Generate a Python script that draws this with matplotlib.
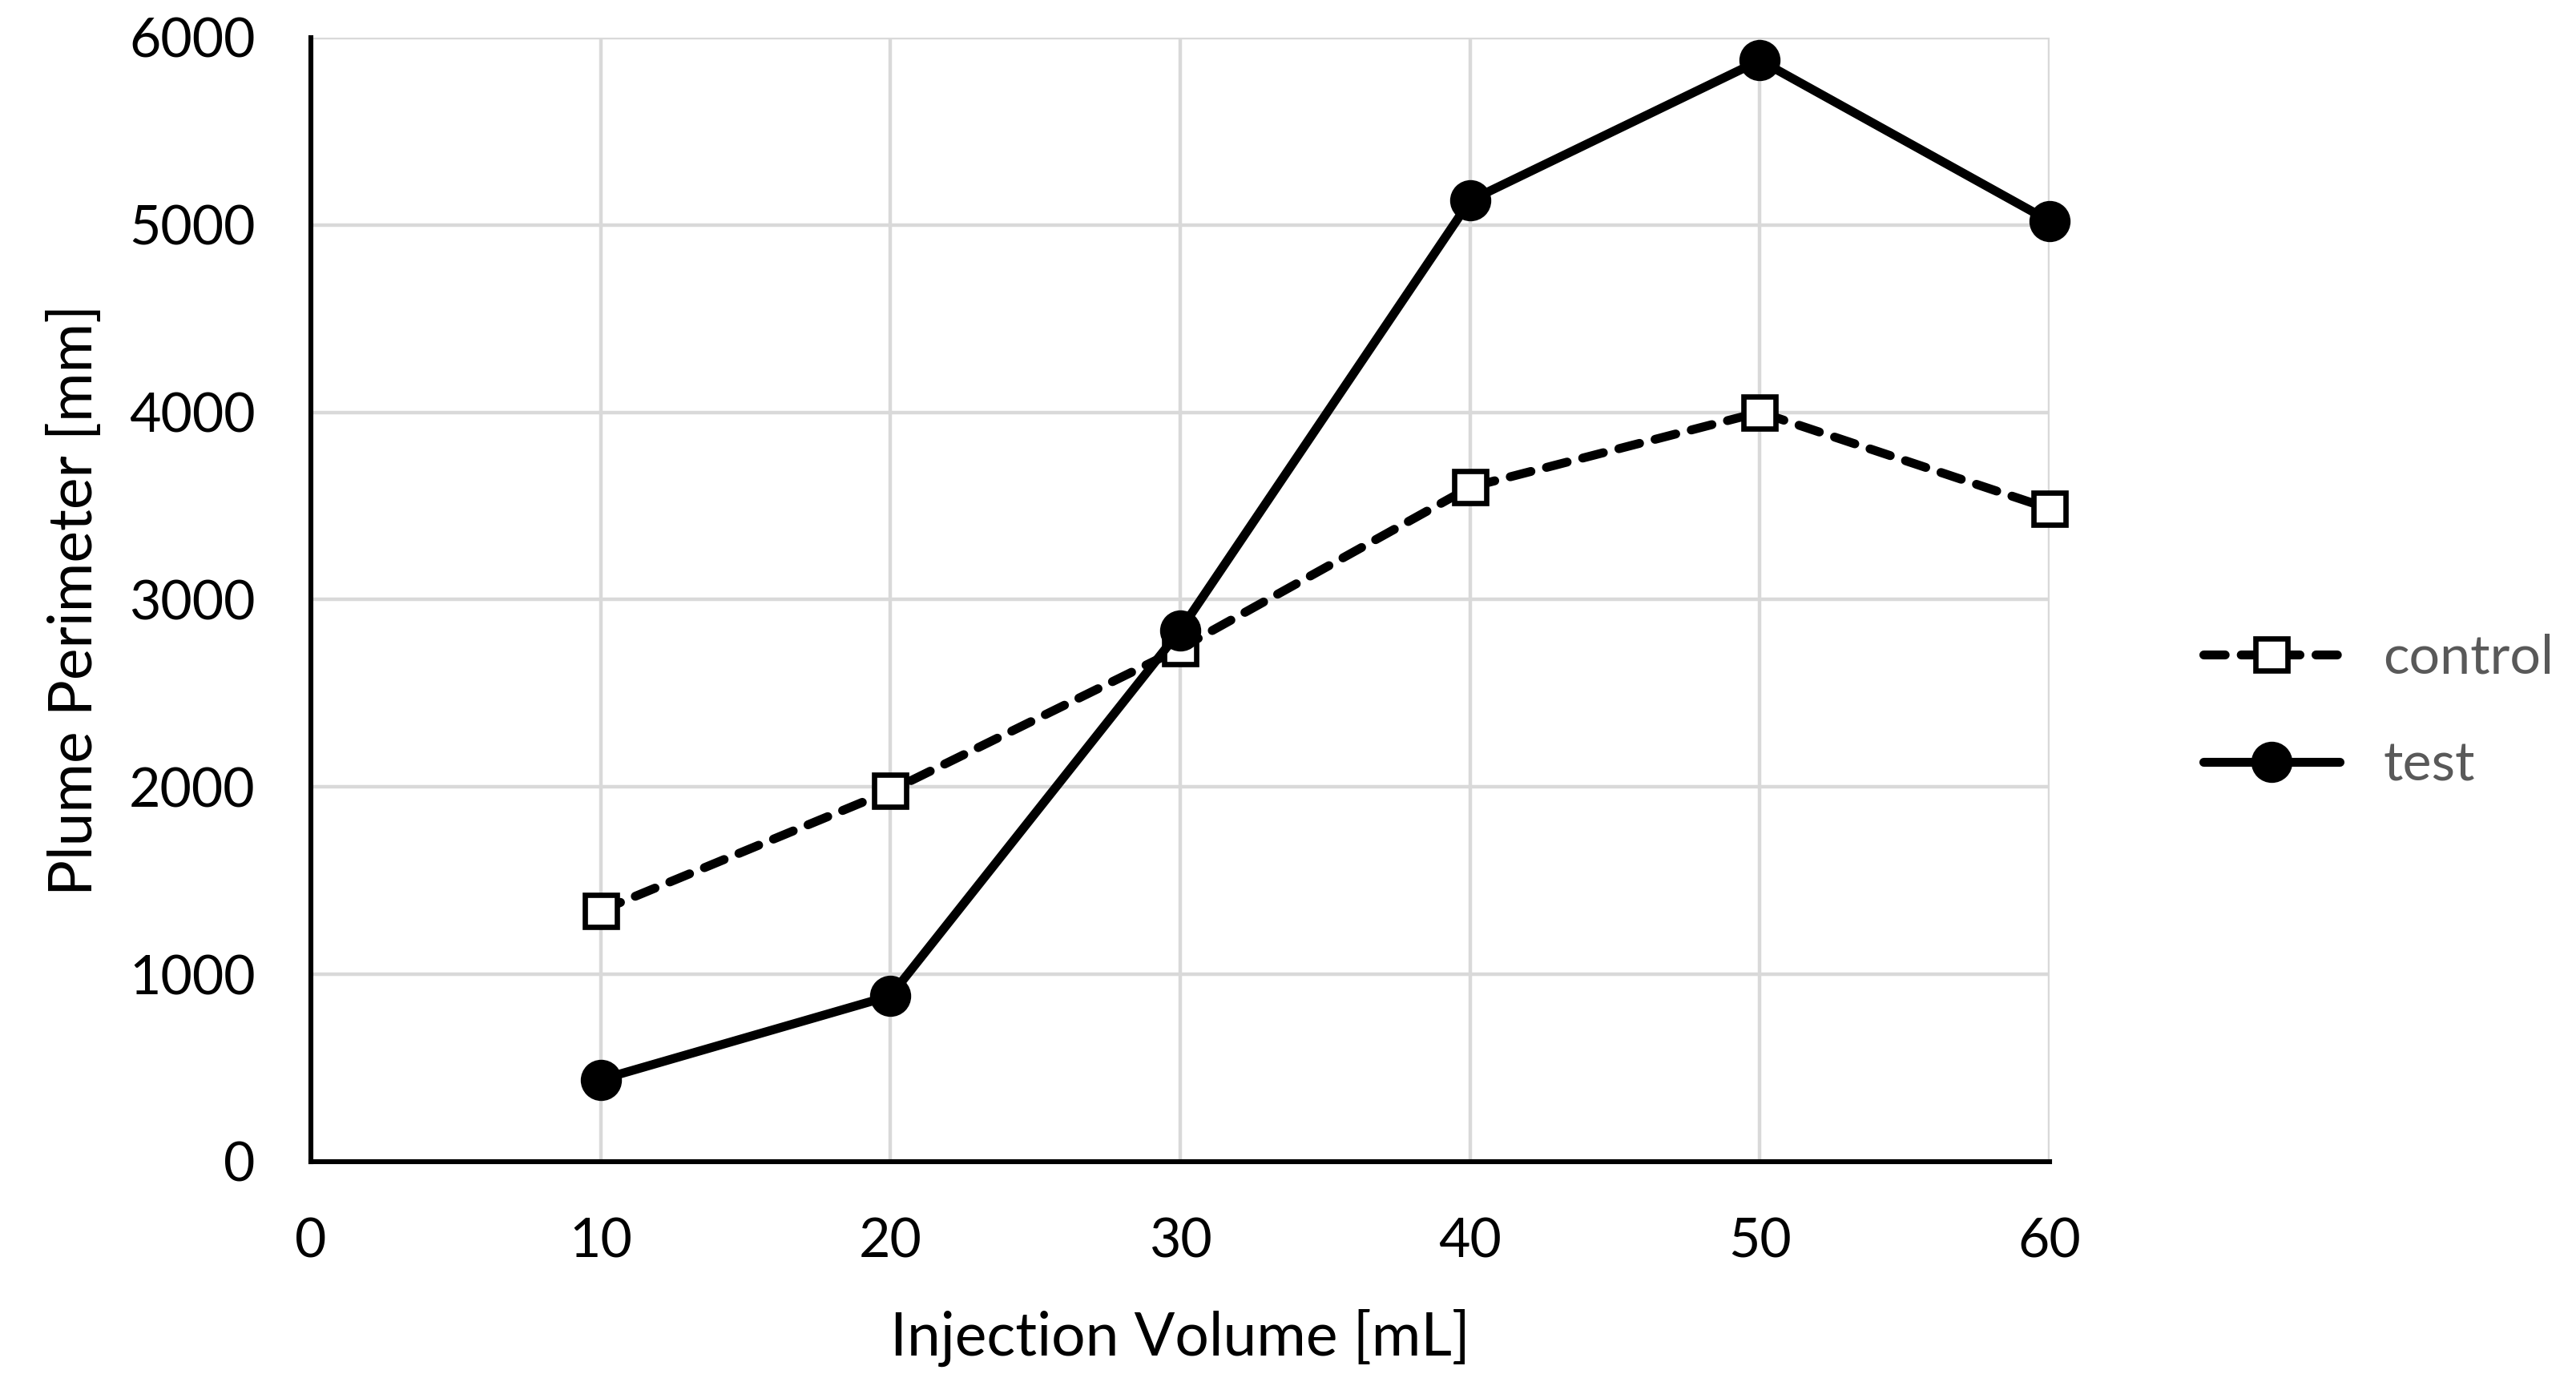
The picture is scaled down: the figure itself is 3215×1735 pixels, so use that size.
import matplotlib.pyplot as plt

# values
volume = [10, 20, 30, 40, 50, 60]
control = [1340, 1980, 2740, 3600, 4000, 3485]
test = [438, 885, 2837, 5130, 5878, 5020]

x_ticks = [0, 10, 20, 30, 40, 50, 60]
y_ticks = [0, 1000, 2000, 3000, 4000, 5000, 6000]

plt.rcParams['font.family'] = ['Lato', 'DejaVu Sans']

fig = plt.figure(figsize=(16.075, 8.675), dpi=200)
ax = fig.add_axes([0.1207, 0.1643, 0.675, 0.8087])

ax.plot(volume, control, color='black', lw=4.0, linestyle=(0, (2.4, 1.8)),
        dash_capstyle='round', marker='s', markersize=14.5,
        markerfacecolor='white', markeredgecolor='black', markeredgewidth=2.4,
        label='control', zorder=3, clip_on=False)
ax.plot(volume, test, color='black', lw=4.0, solid_capstyle='round',
        marker='o', markersize=17.5, markerfacecolor='black',
        markeredgecolor='black', label='test', zorder=4, clip_on=False)

ax.set_xlim(0, 60)
ax.set_ylim(0, 6000)
ax.set_xticks(x_ticks)
ax.set_yticks(y_ticks)
ax.grid(True, color='#d9d9d9', lw=1.6)
ax.set_axisbelow(True)

for side in ['top', 'right']:
    ax.spines[side].set_visible(False)
for side in ['left', 'bottom']:
    ax.spines[side].set_linewidth(2.2)
    ax.spines[side].set_color('black')

ax.tick_params(length=0, labelsize=24.5, pad=25)
ax.set_xlabel('Injection Volume [mL]', fontsize=27, labelpad=19)
ax.set_ylabel('Plume Perimeter [mm]', fontsize=27, labelpad=12)

leg = ax.legend(loc='center left', bbox_to_anchor=(1.06, 0.40), frameon=False,
                fontsize=24.5, handlelength=2.5, labelspacing=1.05,
                handletextpad=0.8)
for t in leg.get_texts():
    t.set_color('#595959')

fig.savefig('out.png', dpi=200)
